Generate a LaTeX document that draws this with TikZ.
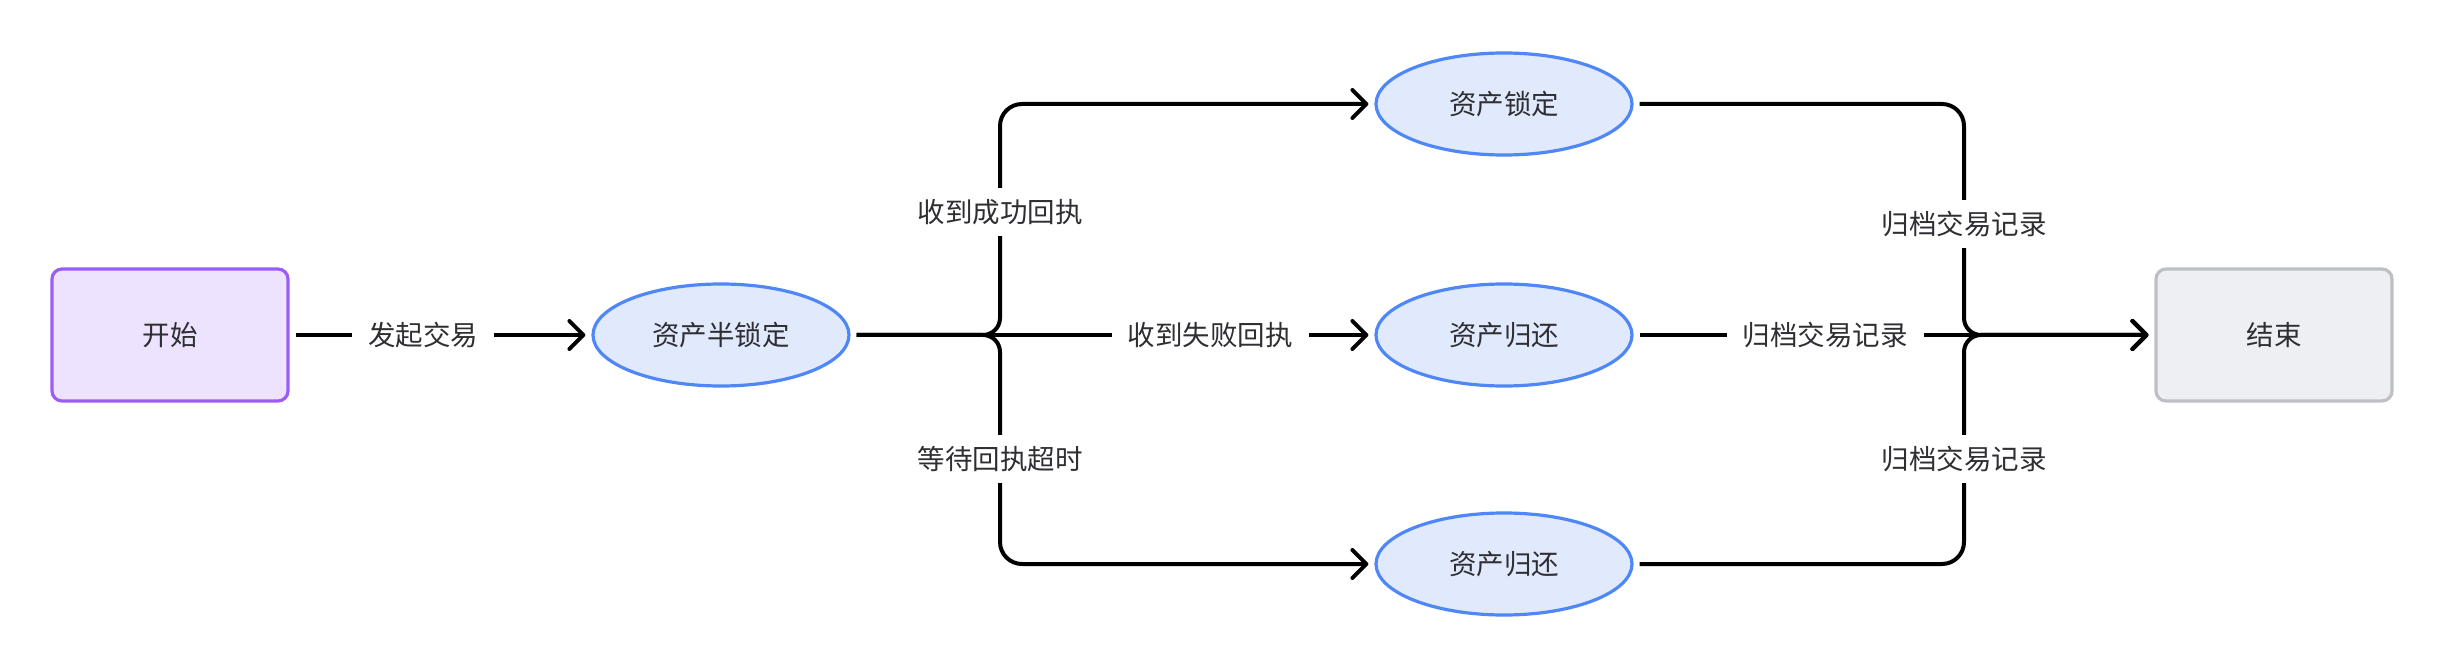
\documentclass[tikz,border=0pt]{standalone}
\usepackage{fontspec}
\newfontfamily\cjk{Noto Sans CJK SC}
\usetikzlibrary{arrows.meta,shapes.geometric}
\definecolor{txt}{HTML}{2E2E33}
\definecolor{purpleB}{HTML}{9B5DF6}
\definecolor{purpleF}{HTML}{EDE3FE}
\definecolor{blueB}{HTML}{4F87F7}
\definecolor{blueF}{HTML}{E1EAFD}
\definecolor{grayB}{HTML}{BEC0C5}
\definecolor{grayF}{HTML}{EEEFF2}
\begin{document}
\begin{tikzpicture}[x=0.5pt,y=-0.5pt,
  every node/.style={font=\cjk\fontsize{13.75pt}{16pt}\selectfont, text=txt},
  startbox/.style={rectangle, rounded corners=5pt, draw=purpleB, fill=purpleF, line width=1.6pt, minimum width=118pt, minimum height=66pt},
  endbox/.style={rectangle, rounded corners=5pt, draw=grayB, fill=grayF, line width=1.6pt, minimum width=118pt, minimum height=66pt},
  state/.style={ellipse, draw=blueB, fill=blueF, line width=1.6pt, minimum width=128pt, minimum height=51pt},
  conn/.style={line width=2pt, -{Straight Barb[length=7pt,width=14pt,round]}, shorten >=3pt, shorten <=3pt},
  lbl/.style={fill=white, inner xsep=8pt, inner ysep=5.5pt}]
\useasboundingbox (0,0) rectangle (2442,668);
\node[startbox] (start) at (170,335) {开始};
\node[state] (half) at (721,335) {资产半锁定};
\node[state] (lock) at (1504,104) {资产锁定};
\node[state] (ret1) at (1504,335) {资产归还};
\node[state] (ret2) at (1504,564) {资产归还};
\node[endbox] (end) at (2274,335) {结束};

\draw[conn] (start) -- (half);
\draw[conn] (half.east) [rounded corners=8.5pt] -- (1000,335) [rounded corners=11pt] -- (1000,104) -- (lock.west);
\draw[conn] (half.east) -- (ret1.west);
\draw[conn] (half.east) [rounded corners=8.5pt] -- (1000,335) [rounded corners=11pt] -- (1000,564) -- (ret2.west);

\draw[conn] (lock.east) [rounded corners=11pt] -- (1964,104) [rounded corners=8.5pt] -- (1964,335) -- (end.west);
\draw[conn] (ret1.east) -- (end.west);
\draw[conn] (ret2.east) [rounded corners=11pt] -- (1964,564) [rounded corners=8.5pt] -- (1964,335) -- (end.west);

\node[lbl] (l1) at (423,335) {发起交易};
\node[lbl] (l2) at (1000,212) {收到成功回执};
\node[lbl] (l3) at (1210,335) {收到失败回执};
\node[lbl] (l4) at (1000,459) {等待回执超时};
\node[lbl] (l5) at (1964,224) {归档交易记录};
\node[lbl] (l6) at (1825,335) {归档交易记录};
\node[lbl] (l7) at (1964,459) {归档交易记录};
\end{tikzpicture}
\end{document}
